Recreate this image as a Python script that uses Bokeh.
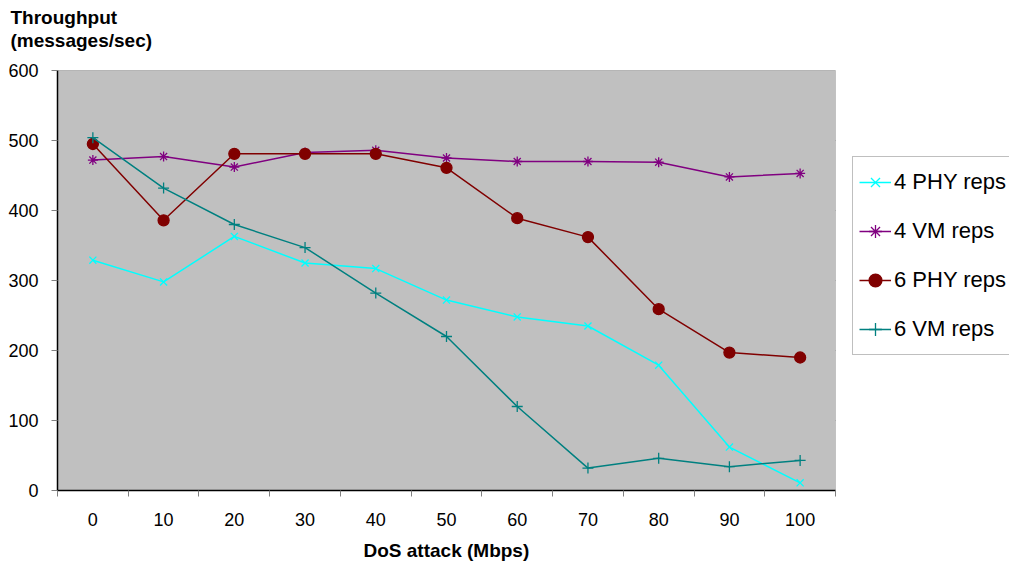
from bokeh.plotting import figure
from bokeh.models import (Range1d, FixedTicker, Legend, LegendItem, Title,
                          BoxAnnotation)
from bokeh.embed import file_html
from bokeh.resources import INLINE

categories = ["0", "10", "20", "30", "40", "50", "60", "70", "80", "90", "100"]
phy4 = [329, 298, 363, 325, 317, 272, 248, 235, 179, 62, 11]
vm4 = [472, 477, 462, 483, 486, 475, 470, 470, 469, 448, 453]
phy6 = [495, 386, 481, 481, 481, 461, 389, 362, 259, 197, 190]
vm6 = [504, 432, 380, 347, 282, 220, 120, 32, 46, 34, 43]
yticks = [0, 100, 200, 300, 400, 500, 600]

xs = list(range(len(categories)))
FONT = "Liberation Sans"

W, H = 1009, 564
LEFT, TOP, PLOT_W, PLOT_H = 57, 70, 778, 420
n = len(categories)
px_per_cat = PLOT_W / n
x0 = -0.5
x_plot_end = x0 + n
x_view_end = x0 + (W - LEFT) / px_per_cat

p = figure(width=W, height=H, output_backend="svg", toolbar_location=None,
           x_range=Range1d(x0, x_view_end), y_range=Range1d(0, 600),
           min_border_left=LEFT, min_border_right=0, min_border_top=TOP,
           min_border_bottom=H - TOP - PLOT_H)
p.background_fill_color = "white"
p.border_fill_color = "white"
p.outline_line_color = None

# plot area
p.add_layout(BoxAnnotation(left=x0, right=x_plot_end, bottom=0, top=600,
                           fill_color="#C0C0C0", fill_alpha=1,
                           line_color="#808080", line_width=1,
                           level="underlay"))
p.segment(x0=[x0] * len(yticks), x1=[x_plot_end] * len(yticks),
          y0=yticks, y1=yticks, line_color="#808080", line_width=1,
          level="underlay")

# axes
p.xaxis.bounds = (x0, x_plot_end)
p.xaxis.ticker = FixedTicker(ticks=xs, minor_ticks=[i - 0.5 for i in range(n + 1)])
p.xaxis.major_label_overrides = {i: c for i, c in enumerate(categories)}
p.xaxis.major_tick_line_color = None
p.xaxis.major_tick_out = 0
p.xaxis.major_tick_in = 0
p.xaxis.minor_tick_line_color = "#808080"
p.xaxis.minor_tick_out = 6
p.xaxis.minor_tick_in = 0
p.xaxis.axis_line_color = "black"
p.xaxis.axis_line_width = 1.5
p.xaxis.major_label_text_font = FONT
p.xaxis.major_label_text_font_size = "18px"
p.xaxis.major_label_text_color = "black"
p.xaxis.major_label_standoff = 16
# the visible frame extends right (for the legend); trailing no-break spaces
# keep the label centred under the gray plot area
p.xaxis.axis_label = "DoS attack (Mbps)" + "\u00a0" * 33
p.xaxis.axis_label_text_font = FONT
p.xaxis.axis_label_text_font_size = "19px"
p.xaxis.axis_label_text_font_style = "bold"
p.xaxis.axis_label_text_color = "black"
p.xaxis.axis_label_standoff = 11

p.yaxis.bounds = (0, 600)
p.yaxis.ticker = FixedTicker(ticks=yticks)
p.yaxis.minor_tick_line_color = None
p.yaxis.major_tick_line_color = "#808080"
p.yaxis.major_tick_out = 6
p.yaxis.major_tick_in = 0
p.yaxis.axis_line_color = "black"
p.yaxis.axis_line_width = 1.5
p.yaxis.major_label_text_font = FONT
p.yaxis.major_label_text_font_size = "18px"
p.yaxis.major_label_text_color = "black"
p.yaxis.major_label_standoff = 13

p.xgrid.grid_line_color = None
p.ygrid.grid_line_color = None

# title block: spacer, then two lines stacked upward
p.add_layout(Title(text=" ", text_font_size="1px", standoff=17), "above")
p.add_layout(Title(text="(messages/sec)", align="left", offset=-47,
                   text_font=FONT, text_font_size="19px", text_font_style="bold",
                   text_color="black", standoff=0), "above")
p.add_layout(Title(text="Throughput", align="left", offset=-47,
                   text_font=FONT, text_font_size="19px", text_font_style="bold",
                   text_color="black", standoff=0), "above")

series = [
    ("4 PHY reps", phy4, "#00FFFF", "x", 10),
    ("4 VM reps", vm4, "#800080", "asterisk", 10),
    ("6 PHY reps", phy6, "#800000", "circle", 11),
    ("6 VM reps", vm6, "#008080", "cross", 11),
]
items = []
for name, ys, color, marker, size in series:
    ln = p.line(xs, ys, line_color=color, line_width=1.5)
    sc = p.scatter(xs, ys, marker=marker, size=size, line_color=color,
                   fill_color=color, line_width=1.3)
    items.append(LegendItem(label=name, renderers=[ln, sc]))

legend = Legend(items=items)
legend.margin = 0
legend.padding = 6
legend.spacing = 11
legend.glyph_width = 32
legend.glyph_height = 38
legend.label_height = 38
legend.label_width = 130
legend.label_standoff = 3
legend.label_text_font = FONT
legend.label_text_font_size = "22px"
legend.label_text_color = "black"
legend.border_line_color = "#808080"
legend.border_line_width = 1
legend.background_fill_color = "white"
legend.background_fill_alpha = 1
legend.location = (795, 135)
p.add_layout(legend, "center")

open("out.html", "w").write(file_html(p, INLINE))
